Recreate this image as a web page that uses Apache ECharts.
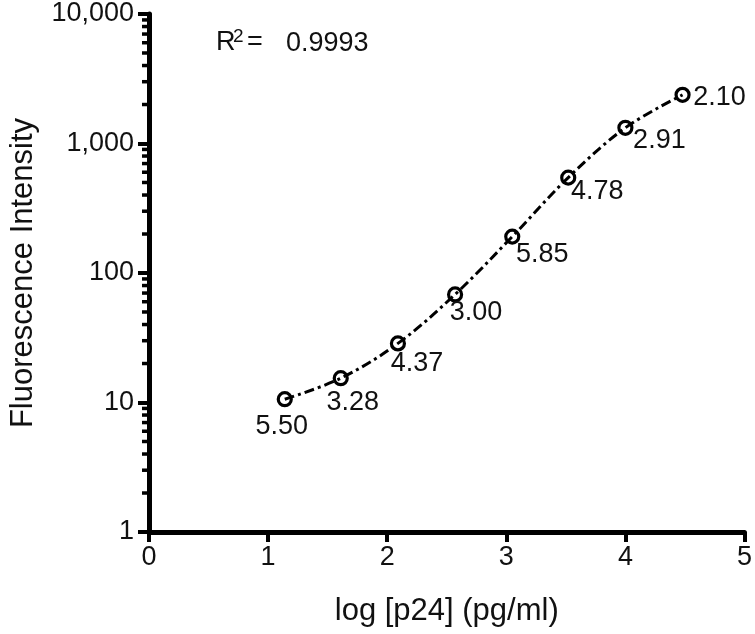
<!DOCTYPE html>
<html>
<head>
<meta charset="utf-8">
<script src="https://cdn.jsdelivr.net/npm/echarts@6/dist/echarts.min.js"></script>
<style>
  html, body { margin: 0; padding: 0; background: #fff; }
  #chart { width: 755px; height: 634px; }
</style>
</head>
<body>
<div id="chart"></div>
<script>
// log [p24] of the 3-fold dilution series and measured intensities
const xValues = [1.14, 1.61, 2.09, 2.57, 3.05, 3.52, 4.00, 4.48]
const yValues = [10.6, 15.4, 28.6, 68.3, 191, 545, 1322, 2375]
// CV (%) printed next to each point
const cvLabels = ['5.50', '3.28', '4.37', '3.00', '5.85', '4.78', '2.91', '2.10']
const xTicks = [0, 1, 2, 3, 4, 5]
const yTicks = [1, 10, 100, 1000, 10000]
const r2Text = '0.9993'

// label placement relative to the marker (style only)
const labelOffsets = [[-3, 27], [12, 24], [19, 20], [21, 18], [30, 18], [29, 14], [34, 13], [37, 3]]

const FONT = 'Liberation Sans, Arial, sans-serif'
const INK = '#111'

// minor ticks at 2..9 of every decade
const minorTicks = []
for (let d = 0; d < yTicks.length - 1; d++) {
  for (let m = 2; m <= 9; m++) minorTicks.push(m * yTicks[d])
}

const chart = echarts.init(document.getElementById('chart'))

const option = {
  backgroundColor: '#fff',
  animation: false,
  grid: { left: 148, right: 10, top: 14, bottom: 102, containLabel: false },
  xAxis: {
    type: 'value',
    min: xTicks[0],
    max: xTicks[xTicks.length - 1],
    interval: 1,
    name: 'log [p24] (pg/ml)',
    nameLocation: 'middle',
    nameGap: 64,
    nameTextStyle: { fontFamily: FONT, fontSize: 31, color: INK },
    axisLine: { lineStyle: { color: '#000', width: 5 } },
    axisTick: { length: 10, lineStyle: { color: '#000', width: 4 } },
    axisLabel: { margin: 12, fontFamily: FONT, fontSize: 27, color: INK },
    splitLine: { show: false }
  },
  yAxis: {
    type: 'log',
    logBase: 10,
    min: yTicks[0],
    max: yTicks[yTicks.length - 1],
    name: 'Fluorescence Intensity',
    nameLocation: 'middle',
    nameGap: 110,
    nameTextStyle: { fontFamily: FONT, fontSize: 31, color: INK },
    axisLine: { show: true, lineStyle: { color: '#000', width: 5 } },
    axisTick: { length: 11, lineStyle: { color: '#000', width: 4 } },
    axisLabel: {
      margin: 15,
      fontFamily: FONT,
      fontSize: 27,
      color: INK,
      formatter: v => Number(v).toLocaleString('en-US')
    },
    splitLine: { show: false }
  },
  graphic: [
    { type: 'text', left: 216, top: 29, style: { text: 'R', font: '27px ' + FONT, fill: INK } },
    { type: 'text', left: 233, top: 27, style: { text: '2', font: '19px ' + FONT, fill: INK } },
    { type: 'text', left: 247, top: 29, style: { text: '=', font: '27px ' + FONT, fill: INK } },
    { type: 'text', left: 286, top: 30, style: { text: r2Text, font: '27px ' + FONT, fill: INK } }
  ],
  series: [
    {
      type: 'custom',
      silent: true,
      clip: false,
      data: minorTicks.map(v => [xTicks[0], v]),
      renderItem: (params, api) => {
        const p = api.coord([api.value(0), api.value(1)])
        return {
          type: 'line',
          shape: { x1: p[0] - 7, y1: p[1], x2: p[0], y2: p[1] },
          style: { stroke: '#000', lineWidth: 3.5 }
        }
      }
    },
    {
      type: 'line',
      smooth: 0.35,
      symbol: 'circle',
      symbolSize: 13,
      lineStyle: { color: '#000', width: 3, type: [10, 4, 3, 4] },
      itemStyle: { color: 'rgba(0,0,0,0)', borderColor: '#000', borderWidth: 3.2 },
      data: xValues.map((x, i) => ({
        value: [x, yValues[i]],
        label: { offset: labelOffsets[i] }
      })),
      label: {
        show: true,
        position: 'inside',
        align: 'center',
        verticalAlign: 'middle',
        fontFamily: FONT,
        fontSize: 27,
        color: INK,
        formatter: p => cvLabels[p.dataIndex]
      },
      z: 3
    }
  ]
}

chart.setOption(option)
window.addEventListener('resize', () => chart.resize())
</script>
</body>
</html>
